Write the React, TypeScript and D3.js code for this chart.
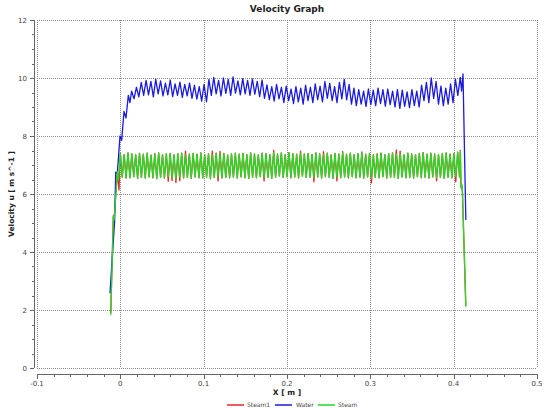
import React from "react";
import * as d3 from "d3";

// ---- data ----
const xTicks = [-0.1, 0, 0.1, 0.2, 0.3, 0.4, 0.5];
const yTicks = [0, 2, 4, 6, 8, 10, 12];

// Water: ramp points, then a regular grid, then the falling edge
const waterHeadX = [-0.0124, -0.0068, -0.0055, -0.0036, -0.0004, 0.0016, 0.0044, 0.0068, 0.0096, 0.0115];
const waterHeadU = [2.58, 5.1, 6.75, 6.72, 8.0, 7.85, 8.85, 8.62, 9.4, 9.15];
const waterGridX0 = 0.0135;
const waterGridDx = 0.0029;
const waterGridU = [
  9.55, 9.28, 9.68, 9.35, 9.85, 9.4, 9.92, 9.42, 9.88, 9.35,
  9.95, 9.45, 9.9, 9.38, 9.82, 9.42, 9.93, 9.36, 9.8, 9.4,
  9.86, 9.33, 9.78, 9.38, 9.82, 9.3, 9.75, 9.27, 9.7, 9.2,
  9.78, 9.18, 9.95, 9.4, 10.02, 9.45, 9.92, 9.38, 10.0, 9.47,
  9.95, 9.4, 10.04, 9.48, 9.9, 9.42, 9.98, 9.45, 9.92, 9.4,
  9.97, 9.44, 9.88, 9.36, 9.93, 9.3, 9.76, 9.25, 9.7, 9.2,
  9.78, 9.28, 9.68, 9.15, 9.72, 9.22, 9.62, 9.12, 9.7, 9.18,
  9.65, 9.1, 9.75, 9.22, 9.68, 9.15, 9.8, 9.25, 9.72, 9.18,
  9.88, 9.3, 9.82, 9.22, 9.7, 9.15, 9.85, 9.28, 9.95, 9.25,
  9.78, 9.1, 9.65, 9.05, 9.6, 9.1, 9.55, 9.02, 9.62, 9.08,
  9.58, 9.05, 9.65, 9.12, 9.6, 9.03, 9.62, 9.08, 9.55, 9.0,
  9.6, 8.95, 9.58, 9.02, 9.52, 8.98, 9.6, 9.05, 9.55, 9.0,
  9.75, 9.22, 9.85, 9.15, 10.0, 9.3, 9.88, 9.1, 9.72, 9.05,
  9.65, 9.1, 9.8, 9.15, 9.95, 9.4, 10.02,
];
const waterTailX = [0.4095, 0.4112, 0.4146];
const waterTailU = [9.55, 10.14, 5.1];

// Steam: ramp, regular grid, falling edge
const steamHeadX = [-0.0115, -0.0084, -0.0075, -0.0036, -0.0024];
const steamHeadU = [1.83, 5.22, 5.1, 6.77, 6.48];
const steamGridX0 = 0.0;
const steamGridDx = 0.0023;
const steamGridU = [
  7.4, 6.58, 7.36, 6.55, 7.42, 6.56, 7.38, 6.6, 7.35, 6.54, 7.4, 6.57, 7.37, 6.55, 7.41, 6.59, 7.34, 6.56, 7.39, 6.53,
  7.42, 6.57, 7.36, 6.55, 7.38, 6.6, 7.4, 6.56, 7.35, 6.52, 7.39, 6.58, 7.41, 6.55, 7.36, 6.57, 7.38, 6.54, 7.4, 6.59,
  7.37, 6.56, 7.42, 6.55, 7.36, 6.58, 7.39, 6.53, 7.35, 6.57, 7.41, 6.6, 7.38, 6.55, 7.4, 6.57, 7.34, 6.56, 7.39, 6.58,
  7.41, 6.55, 7.37, 6.59, 7.4, 6.56, 7.36, 6.54, 7.42, 6.58, 7.38, 6.56, 7.35, 6.6, 7.41, 6.55, 7.39, 6.57, 7.36, 6.54,
  7.44, 6.58, 7.38, 6.62, 7.42, 6.57, 7.36, 6.6, 7.43, 6.56, 7.39, 6.59, 7.37, 6.55, 7.41, 6.61, 7.38, 6.57, 7.4, 6.58,
  7.36, 6.56, 7.42, 6.59, 7.39, 6.55, 7.37, 6.6, 7.41, 6.57, 7.35, 6.54, 7.4, 6.58, 7.38, 6.56, 7.43, 6.59, 7.37, 6.55,
  7.41, 6.6, 7.36, 6.56, 7.39, 6.58, 7.42, 6.55, 7.37, 6.59, 7.4, 6.54, 7.35, 6.57, 7.38, 6.56, 7.41, 6.6, 7.36, 6.55,
  7.39, 6.57, 7.42, 6.58, 7.37, 6.54, 7.4, 6.59, 7.35, 6.56, 7.41, 6.57, 7.38, 6.55, 7.36, 6.6, 7.4, 6.56, 7.43, 6.58,
  7.37, 6.55, 7.41, 6.59, 7.38, 6.56, 7.36, 6.57, 7.4, 6.54, 7.42, 6.58, 7.37, 6.56, 7.39, 6.6, 7.44, 6.57,
];
const steamTailX = [0.408, 0.4088, 0.4098, 0.4105, 0.4146];
const steamTailU = [7.48, 6.2, 6.32, 6.1, 2.11];

// Steam1: nearly the same as Steam, with a few larger extremes
const steam1HeadX = [-0.0115, -0.0084, -0.0075, -0.0036, -0.0016];
const steam1HeadU = [1.9, 5.25, 5.12, 6.75, 6.14];
const steam1GridU = [
  7.4, 6.58, 7.36, 6.55, 7.42, 6.56, 7.38, 6.6, 7.35, 6.54, 7.4, 6.57, 7.37, 6.55, 7.41, 6.59, 7.34, 6.56, 7.39, 6.53,
  7.42, 6.57, 7.36, 6.55, 7.38, 6.44, 7.4, 6.47, 7.35, 6.4, 7.39, 6.46, 7.41, 6.55, 7.48, 6.57, 7.38, 6.54, 7.4, 6.59,
  7.37, 6.56, 7.42, 6.55, 7.36, 6.58, 7.39, 6.53, 7.48, 6.57, 7.41, 6.45, 7.47, 6.55, 7.4, 6.57, 7.34, 6.56, 7.39, 6.58,
  7.41, 6.55, 7.37, 6.59, 7.4, 6.56, 7.36, 6.54, 7.42, 6.58, 7.38, 6.56, 7.35, 6.6, 7.41, 6.45, 7.39, 6.57, 7.36, 6.54,
  7.5, 6.58, 7.38, 6.62, 7.42, 6.57, 7.36, 6.6, 7.43, 6.56, 7.39, 6.59, 7.37, 6.55, 7.48, 6.61, 7.38, 6.57, 7.4, 6.58,
  7.36, 6.42, 7.42, 6.59, 7.39, 6.55, 7.46, 6.6, 7.41, 6.57, 7.35, 6.54, 7.4, 6.45, 7.38, 6.56, 7.46, 6.59, 7.37, 6.55,
  7.41, 6.6, 7.36, 6.56, 7.39, 6.58, 7.45, 6.55, 7.37, 6.59, 7.4, 6.38, 7.35, 6.57, 7.38, 6.56, 7.41, 6.6, 7.36, 6.55,
  7.39, 6.57, 7.42, 6.58, 7.52, 6.54, 7.48, 6.59, 7.35, 6.56, 7.41, 6.57, 7.38, 6.55, 7.36, 6.6, 7.4, 6.56, 7.43, 6.58,
  7.37, 6.55, 7.41, 6.59, 7.38, 6.45, 7.36, 6.57, 7.4, 6.54, 7.42, 6.58, 7.37, 6.56, 7.39, 6.42, 7.44, 6.57,
];
const steam1TailX = [0.408, 0.4088, 0.4098, 0.4105, 0.4146];
const steam1TailU = [7.5, 6.25, 6.3, 6.05, 2.15];

const seriesNames = ["Steam1", "Water", "Steam"];
const seriesColors = ["#e8262a", "#1a1ae0", "#22dd22"];

type Pt = [number, number];

function buildSeries(
  headX: number[], headU: number[],
  x0: number, dx: number, gridU: number[],
  tailX: number[], tailU: number[]
): Pt[] {
  const pts: Pt[] = headX.map((x, i) => [x, headU[i]] as Pt);
  gridU.forEach((u, i) => pts.push([x0 + i * dx, u]));
  tailX.forEach((x, i) => pts.push([x, tailU[i]]));
  return pts;
}

const W = 544;
const H = 410;
const plot = { left: 37, right: 537, top: 20, bottom: 368 };
const FONT = "DejaVu Sans, Verdana, sans-serif";

export default function App() {
  const x = d3.scaleLinear().domain([-0.1, 0.5]).range([plot.left, plot.right]);
  const y = d3.scaleLinear().domain([0, 12]).range([plot.bottom, plot.top]);
  const line = d3.line<Pt>().x((d) => x(d[0])).y((d) => y(d[1]));

  const steam1 = buildSeries(steam1HeadX, steam1HeadU, steamGridX0, steamGridDx, steam1GridU, steam1TailX, steam1TailU);
  const water = buildSeries(waterHeadX, waterHeadU, waterGridX0, waterGridDx, waterGridU, waterTailX, waterTailU);
  const steam = buildSeries(steamHeadX, steamHeadU, steamGridX0, steamGridDx, steamGridU, steamTailX, steamTailU);
  const seriesData = [steam1, water, steam];

  const yAxisX = 34;
  const xAxisY = 374;
  const yMinor = d3.range(0, 12.001, 0.5);
  const xMinor = d3.range(-0.1, 0.5001, 0.02);

  const legendItems = [
    { lx: 227, tx: 247 },
    { lx: 275, tx: 296 },
    { lx: 318, tx: 338 },
  ];

  return (
    <svg
      width={W}
      height={H}
      style={{ position: "fixed", left: 0, top: 0, background: "#fff" }}
      fontFamily={FONT}
    >
      <rect x={0} y={0} width={W} height={H} fill="#fff" />
      <text x={287} y={12} textAnchor="middle" fontSize={9} fontWeight="bold" fill="#222">
        Velocity Graph
      </text>

      {/* grid */}
      <g stroke="#8a8a8a" strokeWidth={1} strokeDasharray="1 1" shapeRendering="crispEdges">
        {xTicks.map((t) => (
          <line key={"gx" + t} x1={Math.round(x(t)) + 0.5} x2={Math.round(x(t)) + 0.5} y1={plot.top} y2={plot.bottom} />
        ))}
        {yTicks.map((t) => (
          <line key={"gy" + t} x1={plot.left} x2={plot.right} y1={Math.round(y(t)) + 0.5} y2={Math.round(y(t)) + 0.5} />
        ))}
      </g>

      {/* y axis */}
      <g stroke="#666" strokeWidth={1} shapeRendering="crispEdges">
        <line x1={yAxisX + 0.5} x2={yAxisX + 0.5} y1={y(12)} y2={y(0)} />
        {yMinor.map((t) => {
          const major = Math.abs(t / 2 - Math.round(t / 2)) < 1e-6;
          const yy = Math.round(y(t)) + 0.5;
          return <line key={"ym" + t} x1={yAxisX - (major ? 4 : 2)} x2={yAxisX} y1={yy} y2={yy} />;
        })}
      </g>
      <g fontSize={7} fill="#444" textAnchor="end">
        {yTicks.map((t) => (
          <text key={"yl" + t} x={27} y={y(t) + 2.5}>
            {t}
          </text>
        ))}
      </g>
      <text
        transform={`translate(14,${(plot.top + plot.bottom) / 2}) rotate(-90)`}
        textAnchor="middle"
        fontSize={7.5}
        fontWeight="bold"
        fill="#222"
      >
        Velocity u [ m s^-1 ]
      </text>

      {/* x axis */}
      <g stroke="#666" strokeWidth={1} shapeRendering="crispEdges">
        <line x1={x(-0.1)} x2={x(0.5)} y1={xAxisY + 0.5} y2={xAxisY + 0.5} />
        {xMinor.map((t, i) => {
          const major = i % 5 === 0;
          const xx = Math.round(x(t)) + 0.5;
          return <line key={"xm" + i} x1={xx} x2={xx} y1={xAxisY} y2={xAxisY + (major ? 5 : 3)} />;
        })}
      </g>
      <g fontSize={7} fill="#444" textAnchor="middle">
        {xTicks.map((t) => (
          <text key={"xl" + t} x={x(t)} y={386}>
            {t}
          </text>
        ))}
      </g>
      <text x={287} y={395} textAnchor="middle" fontSize={7.5} fontWeight="bold" fill="#222">
        X [ m ]
      </text>

      {/* series */}
      {seriesData.map((pts, i) => (
        <path
          key={seriesNames[i]}
          d={line(pts) || ""}
          fill="none"
          stroke={seriesColors[i]}
          strokeWidth={1.3}
          strokeLinejoin="round"
        />
      ))}

      {/* legend */}
      {seriesNames.map((name, i) => (
        <g key={"lg" + name}>
          <line
            x1={legendItems[i].lx}
            x2={legendItems[i].lx + 17}
            y1={405}
            y2={405}
            stroke={seriesColors[i]}
            strokeWidth={1.5}
          />
          <text x={legendItems[i].tx} y={407} fontSize={6} fill="#444">
            {name}
          </text>
        </g>
      ))}
    </svg>
  );
}
